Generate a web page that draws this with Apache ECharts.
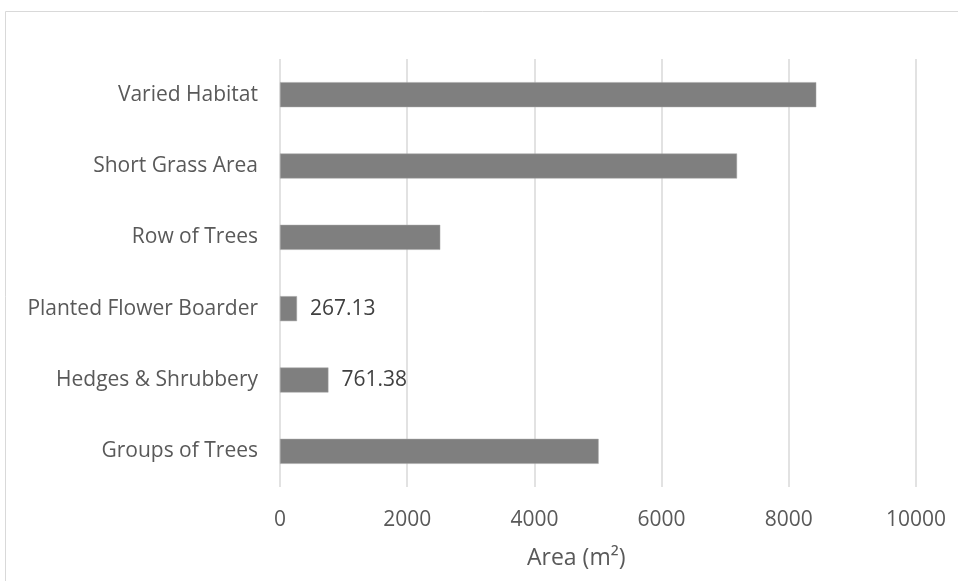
<!DOCTYPE html>
<html>
<head>
<meta charset="utf-8">
<script src="https://cdn.jsdelivr.net/npm/echarts@6/dist/echarts.min.js"></script>
<style>
  html, body { margin: 0; padding: 0; background: #fff; }
  #chart { width: 958px; height: 581px; }
</style>
</head>
<body>
<div id="chart"></div>
<script>
// Data (bottom to top as drawn)
var categories = ['Groups of Trees', 'Hedges & Shrubbery', 'Planted Flower Boarder', 'Row of Trees', 'Short Grass Area', 'Varied Habitat'];
var areaValues = [5010, 761.38, 267.13, 2520, 7186, 8432];
var labelledCategories = ['Hedges & Shrubbery', 'Planted Flower Boarder'];
var xTicks = [0, 2000, 4000, 6000, 8000, 10000];
var axisTitle = 'Area (m²)';

var FONT = '"Open Sans", "Noto Sans", sans-serif';
var TEXT = '#595959';

var seriesData = categories.map(function (c, i) {
  return {
    value: areaValues[i],
    label: { show: labelledCategories.indexOf(c) >= 0 }
  };
});

var chart = echarts.init(document.getElementById('chart'));
chart.setOption({
  animation: false,
  backgroundColor: '#ffffff',
  grid: { left: 280, right: 42, top: 59, bottom: 94, containLabel: false },
  xAxis: {
    type: 'value',
    min: xTicks[0],
    max: xTicks[xTicks.length - 1],
    interval: xTicks[1] - xTicks[0],
    axisLine: { show: false },
    axisTick: { show: false },
    axisLabel: {
      color: TEXT, fontFamily: FONT, fontSize: 21, margin: 23,
      formatter: function (v) { return String(v); }
    },
    splitLine: { show: true, lineStyle: { color: '#d9d9d9', width: 1.5 } }
  },
  yAxis: {
    type: 'category',
    data: categories,
    axisLine: { show: false },
    axisTick: { show: false },
    axisLabel: { color: TEXT, fontFamily: FONT, fontSize: 21, margin: 22 }
  },
  series: [{
    type: 'bar',
    data: seriesData,
    barWidth: 25,
    itemStyle: { color: '#7f7f7f', borderColor: '#a6a6a6', borderWidth: 0.5 },
    label: {
      position: 'right',
      distance: 13,
      color: '#404040',
      fontFamily: FONT,
      fontSize: 21
    }
  }],
  graphic: [
    {
      type: 'rect',
      shape: { x: 5.5, y: 11.5, width: 1000, height: 1000 },
      style: { fill: 'none', stroke: '#d9d9d9', lineWidth: 1 },
      silent: true
    },
    {
      type: 'text',
      left: 527,
      top: 547,
      style: { text: axisTitle, fill: TEXT, font: '23px ' + FONT }
    }
  ]
});
</script>
</body>
</html>
